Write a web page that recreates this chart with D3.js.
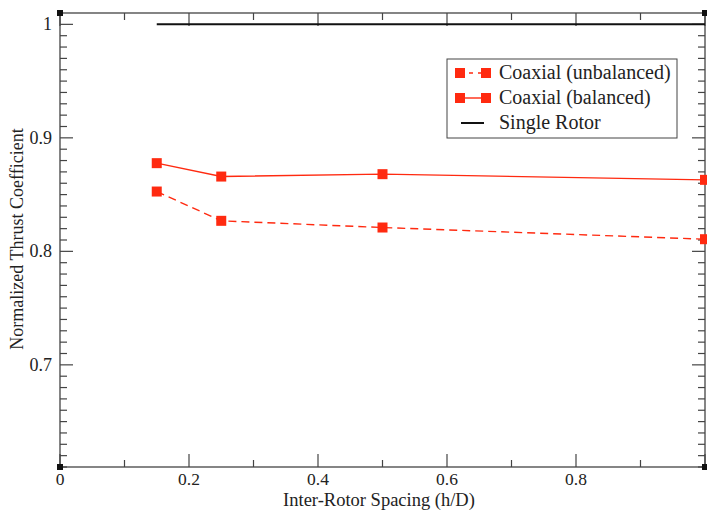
<!DOCTYPE html>
<html>
<head>
<meta charset="utf-8">
<script src="https://cdn.jsdelivr.net/npm/d3@7/dist/d3.min.js"></script>
<style>
  html, body { margin: 0; padding: 0; background: #fff; }
  svg { display: block; }
  text { font-family: "Liberation Serif", "DejaVu Serif", serif; }
</style>
</head>
<body>
<svg id="chart" width="707" height="513"></svg>
<script>
// ---- data ----
const spacing = [0.15, 0.25, 0.5, 1.0];
const unbalanced = [0.8527, 0.8269, 0.8210, 0.8107];
const balanced = [0.8777, 0.8659, 0.8680, 0.8630];
const singleRotorX = [0.15, 1.0];
const singleRotor = [1.0, 1.0];
const xMajorTicks = [0, 0.2, 0.4, 0.6, 0.8, 1];
const xTickLabels = [0, 0.2, 0.4, 0.6, 0.8];
const yTicks = [0.7, 0.8, 0.9, 1];
const legendLabels = ["Coaxial (unbalanced)", "Coaxial (balanced)", "Single Rotor"];

(function () {
const svg = d3.select("#chart");
const pl = 60, pr = 705, pt = 13, pb = 467;
const x = d3.scaleLinear().domain([0, 1]).range([pl, pr]);
const y = d3.scaleLinear().domain([0.61, 1.01]).range([pb, pt]);
const red = "#ff2a10";
const frameColor = "#444";
const txt = "#222";

// frame
svg.append("rect").attr("x", pl).attr("y", pt)
  .attr("width", pr - pl).attr("height", pb - pt)
  .attr("fill", "none").attr("stroke", frameColor).attr("stroke-width", 1.3);

// ticks
const xMinor = d3.range(0, 1.0001, 0.1);
const yMinor = d3.range(61, 101, 1).map(d => d / 100);
const isMajorX = v => xMajorTicks.some(t => Math.abs(t - v) < 1e-6);
const isMajorY = v => yTicks.some(t => Math.abs(t - v) < 1e-6);
const g = svg.append("g").attr("stroke", frameColor).attr("stroke-width", 1.2);
xMinor.forEach(v => {
  const len = isMajorX(v) ? 13 : 7;
  g.append("line").attr("x1", x(v)).attr("x2", x(v)).attr("y1", pb).attr("y2", pb - len);
  g.append("line").attr("x1", x(v)).attr("x2", x(v)).attr("y1", pt).attr("y2", pt + len);
});
yMinor.forEach(v => {
  const len = isMajorY(v) ? 13 : 7;
  g.append("line").attr("y1", y(v)).attr("y2", y(v)).attr("x1", pl).attr("x2", pl + len);
  g.append("line").attr("y1", y(v)).attr("y2", y(v)).attr("x1", pr).attr("x2", pr - len);
});

// tick labels
svg.append("g").selectAll("text").data(xTickLabels).join("text")
  .attr("x", d => x(d)).attr("y", 485).attr("text-anchor", "middle")
  .attr("font-size", 17.5).attr("fill", txt).text(d => d3.format("")(d));
svg.append("g").selectAll("text").data(yTicks).join("text")
  .attr("x", 52).attr("y", d => y(d) + 6).attr("text-anchor", "end")
  .attr("font-size", 18).attr("fill", txt).text(d => d3.format("")(d));

// axis titles
svg.append("text").attr("x", 379).attr("y", 506).attr("text-anchor", "middle")
  .attr("font-size", 18.5).attr("fill", txt).text("Inter-Rotor Spacing (h/D)");
svg.append("text").attr("transform", "translate(23,239) rotate(-90)")
  .attr("text-anchor", "middle").attr("font-size", 18).attr("fill", txt)
  .text("Normalized Thrust Coefficient");

// corner markers
[[pl, pt], [pl, pb], [pr, pb], [pr, pt]].forEach(([cx, cy]) => {
  svg.append("rect").attr("x", cx - 3).attr("y", cy - 3).attr("width", 6).attr("height", 6).attr("fill", "#111");
});

// series
const line = d3.line().x(d => x(d[0])).y(d => y(d[1]));
svg.append("path").datum(singleRotorX.map((v, i) => [v, singleRotor[i]]))
  .attr("d", line).attr("fill", "none").attr("stroke", "#111").attr("stroke-width", 2);

const series = [
  { vals: unbalanced, dash: "8,5" },
  { vals: balanced, dash: null }
];
series.forEach(s => {
  const pts = spacing.map((v, i) => [v, s.vals[i]]);
  svg.append("path").datum(pts).attr("d", line).attr("fill", "none")
    .attr("stroke", red).attr("stroke-width", 1.4)
    .attr("stroke-dasharray", s.dash);
  svg.append("g").selectAll("rect").data(pts).join("rect")
    .attr("x", d => x(d[0]) - 5).attr("y", d => y(d[1]) - 5)
    .attr("width", 10).attr("height", 10).attr("fill", red);
});

// legend
const lg = svg.append("g");
lg.append("rect").attr("x", 447).attr("y", 59).attr("width", 230).attr("height", 79)
  .attr("fill", "#fff").attr("stroke", frameColor).attr("stroke-width", 1);
const rows = [73, 98, 123];
rows.forEach((ry, i) => {
  if (i < 2) {
    lg.append("line").attr("x1", 460).attr("x2", 486).attr("y1", ry).attr("y2", ry)
      .attr("stroke", red).attr("stroke-width", 1.4)
      .attr("stroke-dasharray", i === 0 ? "4,5" : null);
    [460, 486].forEach(mx => lg.append("rect").attr("x", mx - 5).attr("y", ry - 5)
      .attr("width", 10).attr("height", 10).attr("fill", red));
  } else {
    lg.append("line").attr("x1", 461).attr("x2", 484).attr("y1", ry).attr("y2", ry)
      .attr("stroke", "#111").attr("stroke-width", 2);
  }
  lg.append("text").attr("x", 499).attr("y", ry + 6)
    .attr("font-size", 20).attr("fill", txt).text(legendLabels[i]);
});
})();
</script>
</body>
</html>
